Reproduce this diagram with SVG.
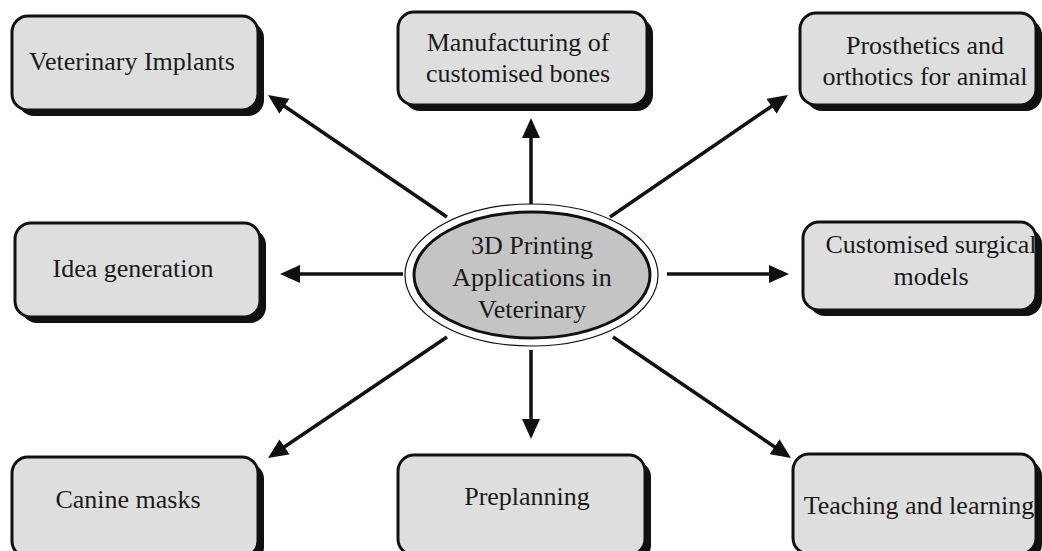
<svg xmlns="http://www.w3.org/2000/svg" width="1042" height="551" viewBox="0 0 1042 551">
<style>
.shadow{fill:#111}
.box{fill:#dedede;stroke:#111;stroke-width:3}
.t{font-family:"Liberation Serif","Times New Roman",serif;font-size:26px;fill:#1a1a1a;text-anchor:middle}
.conn{stroke:#111;stroke-width:3.5;fill:none;marker-end:url(#ah)}
</style>
<defs>
<marker id="ah" viewBox="0 0 20 18" refX="16" refY="9" markerWidth="20" markerHeight="18" markerUnits="userSpaceOnUse" orient="auto">
<path d="M0,0 L20,9 L0,18 Z" fill="#111"/>
</marker>
</defs>
<rect width="1042" height="551" fill="#fff"/>
<g id="connectors">
<line class="conn" x1="531" y1="205" x2="531" y2="122"/>
<line class="conn" x1="403" y1="274" x2="284" y2="274"/>
<line class="conn" x1="667" y1="274" x2="785" y2="274"/>
<line class="conn" x1="531" y1="350" x2="531" y2="435"/>
<line class="conn" x1="447" y1="217" x2="271.3" y2="97.3"/>
<line class="conn" x1="610" y1="217" x2="784.7" y2="97.3"/>
<line class="conn" x1="447" y1="337" x2="271.3" y2="455.8"/>
<line class="conn" x1="613" y1="337" x2="787.7" y2="455.8"/>
</g>
<g id="center">
<ellipse cx="531.5" cy="275" rx="126.5" ry="71" fill="#fff" stroke="#111" stroke-width="1.2"/>
<ellipse cx="532" cy="275" rx="118" ry="63" fill="#c4c4c4" stroke="#111" stroke-width="3"/>
<text class="t" x="532" y="254">3D Printing</text>
<text class="t" x="532" y="286">Applications in</text>
<text class="t" x="532" y="318">Veterinary</text>
</g>
<g id="veterinary-implants">
<rect class="shadow" x="18" y="22" width="246" height="94" rx="16"/>
<rect class="box" x="12" y="16" width="246" height="94" rx="16"/>
<text class="t" x="132" y="70">Veterinary Implants</text>
</g>
<g id="manufacturing">
<rect class="shadow" x="404" y="18" width="249" height="93" rx="16"/>
<rect class="box" x="398" y="12" width="249" height="93" rx="16"/>
<text class="t" x="518" y="51">Manufacturing of</text>
<text class="t" x="518" y="82">customised bones</text>
</g>
<g id="prosthetics">
<rect class="shadow" x="806" y="19" width="236" height="92" rx="16"/>
<rect class="box" x="800" y="13" width="236" height="92" rx="16"/>
<text class="t" x="925" y="54">Prosthetics and</text>
<text class="t" x="925" y="85">orthotics for animal</text>
</g>
<g id="idea-generation">
<rect class="shadow" x="21" y="229" width="245" height="94" rx="16"/>
<rect class="box" x="15" y="223" width="245" height="94" rx="16"/>
<text class="t" x="133" y="277">Idea generation</text>
</g>
<g id="surgical-models">
<rect class="shadow" x="809" y="228" width="233" height="88" rx="16"/>
<rect class="box" x="803" y="222" width="233" height="88" rx="16"/>
<text class="t" x="931" y="253">Customised surgical</text>
<text class="t" x="931" y="285">models</text>
</g>
<g id="canine-masks">
<rect class="shadow" x="18" y="463" width="246" height="100" rx="16"/>
<rect class="box" x="12" y="457" width="246" height="100" rx="16"/>
<text class="t" x="128" y="508">Canine masks</text>
</g>
<g id="preplanning">
<rect class="shadow" x="404" y="461" width="247" height="100" rx="16"/>
<rect class="box" x="398" y="455" width="247" height="100" rx="16"/>
<text class="t" x="527" y="505">Preplanning</text>
</g>
<g id="teaching">
<rect class="shadow" x="799" y="460" width="243" height="100" rx="16"/>
<rect class="box" x="793" y="454" width="243" height="100" rx="16"/>
<text class="t" x="919" y="514">Teaching and learning</text>
</g>
</svg>
